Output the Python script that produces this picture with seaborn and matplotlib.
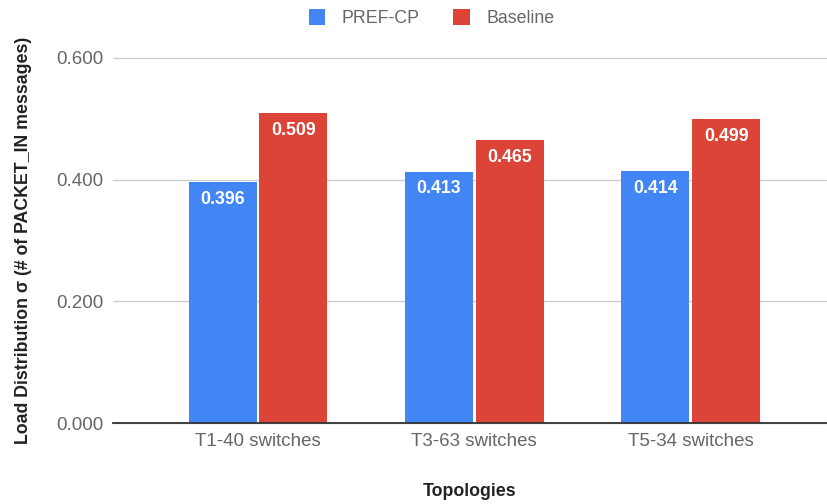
import matplotlib
matplotlib.use("Agg")
import matplotlib.pyplot as plt
import seaborn as sns
import pandas as pd
from matplotlib.patches import Patch

categories = ["T1-40 switches", "T3-63 switches", "T5-34 switches"]
series_names = ["PREF-CP", "Baseline"]
pref_cp = [0.396, 0.413, 0.414]
baseline = [0.509, 0.465, 0.499]
y_ticks = [0.0, 0.2, 0.4, 0.6]
colors = ["#4285F4", "#DB4437"]

df = pd.DataFrame({
    "Topology": categories * 2,
    "Series": [series_names[0]] * 3 + [series_names[1]] * 3,
    "Value": pref_cp + baseline,
})

sns.set_style("white")
plt.rcParams["font.family"] = ["Liberation Sans", "DejaVu Sans"]

fig = plt.figure(figsize=(8.28, 5.04), dpi=100)
ax = fig.add_axes([113 / 828, 1 - 423 / 504, (826 - 113) / 828, (423 - 58) / 504])

sns.barplot(data=df, x="Topology", y="Value", hue="Series", palette=colors,
            width=0.655, gap=0.04, ax=ax, legend=False, saturation=1,
            edgecolor="none", linewidth=0)

for cont in ax.containers:
    for bar in cont:
        h = bar.get_height()
        ax.text(bar.get_x() + bar.get_width() / 2, h - 0.028, f"{h:.3f}",
                ha="center", va="center", color="white", fontsize=12.8,
                fontweight="bold")

ax.set_xlim(-0.67, 2.625)
ax.set_ylim(0, 0.6)
ax.set_yticks(y_ticks)
ax.set_yticklabels([f"{v:.3f}" for v in y_ticks])
ax.yaxis.grid(True, color="#cccccc", linewidth=1)
ax.set_axisbelow(True)
for s in ["top", "right", "left"]:
    ax.spines[s].set_visible(False)
ax.spines["bottom"].set_color("#333333")
ax.spines["bottom"].set_linewidth(1.3)
ax.spines["bottom"].set_zorder(5)
ax.tick_params(axis="both", length=0, colors="#666666", labelsize=13.5)
ax.tick_params(axis="y", pad=7)
ax.tick_params(axis="x", pad=7)
for g in ax.yaxis.get_gridlines():
    g.set_clip_on(False)

ax.set_xlabel("Topologies", fontsize=12.8, fontweight="bold", color="#222222", labelpad=24)
ax.set_ylabel("Load Distribution σ (# of PACKET_IN messages)", fontsize=12.8,
              fontweight="bold", color="#222222", labelpad=17)

handles = [Patch(facecolor=c, edgecolor="none") for c in colors]
fig.legend(handles, series_names, loc="center", bbox_to_anchor=(0.521, 1 - 18 / 504),
           ncol=2, frameon=False, fontsize=12.8, labelcolor="#666666",
           handlelength=0.95, handleheight=1.0, columnspacing=1.9, handletextpad=0.9)

fig.savefig("out.png", dpi=100)
